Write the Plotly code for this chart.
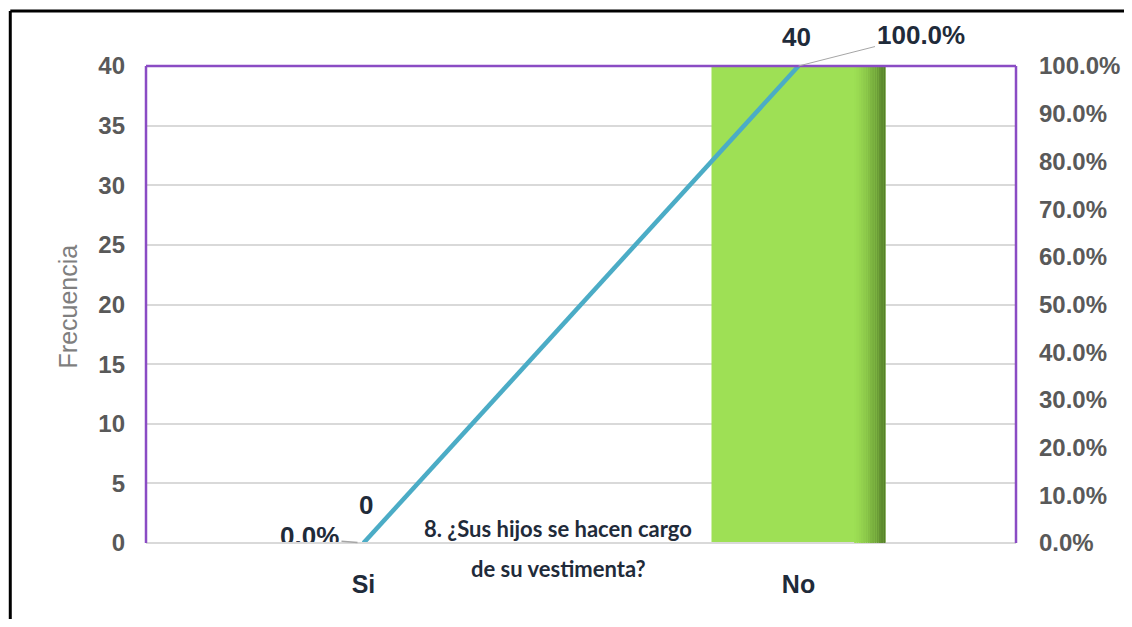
import plotly.graph_objects as go

categories = ["Si", "No"]
frecuencia = [0, 40]
porcentaje = [0.0, 1.0]
left_ticks = [0, 5, 10, 15, 20, 25, 30, 35, 40]
right_ticks = [0.0, 0.1, 0.2, 0.3, 0.4, 0.5, 0.6, 0.7, 0.8, 0.9, 1.0]
question_lines = ["8. ¿Sus hijos se hacen cargo", "de su vestimenta?"]

# page body has an 8px margin; figure is sized so it fits the 1132x627 window
OFF = 8
W, H = 1132 - OFF, 627 - 2 * OFF
L, T = 146 - OFF, 66 - OFF
R = W - (1021 - OFF)
B = H - (543 - OFF)
pw, ph = W - L - R, H - T - B

def px_x(x):  # page pixel -> paper
    return (x - OFF - L) / pw

def px_y(y):
    return (H - B - (y - OFF)) / ph

label_col = "#595959"
dark = "#1F2B3A"
purple = "#8A4CC4"
FONT = "Liberation Sans, Arial"
BAR_W = 0.40

fig = go.Figure()
fig.add_trace(go.Bar(
    x=categories, y=frecuencia, width=BAR_W,
    marker=dict(color="#9EE055", line=dict(width=0)),
    showlegend=False, yaxis="y",
))
fig.add_trace(go.Scatter(
    x=categories, y=porcentaje, mode="lines",
    line=dict(color="#4BACC6", width=4.5),
    showlegend=False, yaxis="y2", cliponaxis=False,
))
# "0.0%" label, clipped by the plot area like in the original
fig.add_trace(go.Scatter(
    x=[categories[0]], y=[porcentaje[0] + 0.009], mode="markers+text",
    marker=dict(size=37, color="rgba(0,0,0,0)"),
    text=["<b>{:.1%}</b>".format(porcentaje[0])], textposition="middle left",
    textfont=dict(size=26, color=dark, family=FONT),
    showlegend=False, yaxis="y2", cliponaxis=True, hoverinfo="skip",
))

fig.update_layout(
    width=W, height=H,
    margin=dict(l=L, r=R, t=T, b=B, pad=0),
    paper_bgcolor="white", plot_bgcolor="white",
    font=dict(family=FONT, color=label_col),
    xaxis=dict(
        type="category", showgrid=False, zeroline=False, showline=False,
        ticks="", tickfont=dict(size=25, color=dark, family=FONT, weight="bold"),
        ticklabelstandoff=24,
    ),
    yaxis=dict(
        range=[0, 40], tickvals=left_ticks, showgrid=True, gridcolor="#D9D9D9",
        gridwidth=2, zeroline=False, showline=False, ticks="",
        tickfont=dict(size=24, color=label_col, family=FONT, weight="bold"),
        ticklabelstandoff=20,
    ),
    yaxis2=dict(
        overlaying="y", side="right", range=[0, 1], tickvals=right_ticks,
        tickformat=".1%", showgrid=False, zeroline=False, showline=False, ticks="",
        tickfont=dict(size=24, color=label_col, family=FONT, weight="bold"),
        ticklabelstandoff=22,
    ),
)

shapes = [
    dict(type="line", xref="paper", yref="paper", x0=0, x1=1, y0=0, y1=0,
         line=dict(color="#D9D9D9", width=2)),
]
# darker shading on the right edge of each bar
N = 14
for i, v in enumerate(frecuencia):
    if v <= 0:
        continue
    right = i + BAR_W / 2
    span = BAR_W * 0.18
    for k in range(N):
        t = (k + 1) / N
        c0 = (158, 224, 85)
        c1 = (86, 128, 42)
        f = t ** 1.5
        col = "rgb({},{},{})".format(*[int(a + (b - a) * f) for a, b in zip(c0, c1)])
        shapes.append(dict(type="rect", xref="x", yref="y", layer="above",
                           x0=right - span + span * k / N, x1=right - span + span * (k + 1) / N,
                           y0=0, y1=v, fillcolor=col, line=dict(width=0)))
shapes += [
    dict(type="line", xref="paper", yref="paper", x0=0, x1=0, y0=0, y1=1,
         line=dict(color=purple, width=2.5)),
    dict(type="line", xref="paper", yref="paper", x0=0, x1=1, y0=1, y1=1,
         line=dict(color=purple, width=2.5)),
    dict(type="line", xref="paper", yref="paper", x0=1, x1=1, y0=0, y1=1,
         line=dict(color=purple, width=2.5)),
    # outer black frame
    dict(type="line", xref="paper", yref="paper", x0=px_x(9.5), x1=px_x(1140),
         y0=px_y(11), y1=px_y(11), line=dict(color="black", width=3)),
    dict(type="line", xref="paper", yref="paper", x0=px_x(9.5), x1=px_x(9.5),
         y0=px_y(11), y1=px_y(640), line=dict(color="black", width=3)),
]
fig.update_layout(shapes=shapes)

lab_font = dict(size=26, color=dark, family=FONT, weight="bold")
ann = [
    dict(xref="paper", yref="paper", x=px_x(68), y=px_y(306),
         xanchor="center", yanchor="middle",
         text="Frecuencia", textangle=-90, showarrow=False,
         font=dict(size=25, color="#7F7F7F", family=FONT)),
    dict(x=categories[0], y=frecuencia[0], xref="x", yref="y",
         text=str(frecuencia[0]), showarrow=False, yshift=38, xshift=2,
         font=lab_font),
    dict(x=categories[1], y=frecuencia[1], xref="x", yref="y",
         text=str(frecuencia[1]), showarrow=False, yshift=29, xshift=-2,
         font=lab_font),
    dict(x=categories[1], y=porcentaje[1], xref="x", yref="y2",
         text="{:.1%}".format(porcentaje[1]), showarrow=True, arrowhead=0,
         arrowwidth=1, arrowcolor="#A6A6A6", ax=122, ay=-31, font=lab_font),
    # short leader line of the clipped "0.0%" label
    dict(x=categories[0], y=porcentaje[0], xref="x", yref="y2",
         text=" ", showarrow=True, arrowhead=0, standoff=6,
         arrowwidth=1.5, arrowcolor="#A6A6A6", ax=-24, ay=-2,
         font=dict(size=4, color="rgba(0,0,0,0)", family=FONT)),
    dict(xref="paper", yref="paper", x=px_x(560), y=px_y(528),
         xanchor="center", yanchor="middle",
         text=question_lines[0], showarrow=False,
         font=dict(size=22, color=dark, family="Lato, Open Sans", weight="bold")),
    dict(xref="paper", yref="paper", x=px_x(561), y=px_y(568),
         xanchor="center", yanchor="middle",
         text=question_lines[1], showarrow=False,
         font=dict(size=22, color=dark, family="Lato, Open Sans", weight="bold")),
]
fig.update_layout(annotations=ann)

fig.write_html("out.html")
